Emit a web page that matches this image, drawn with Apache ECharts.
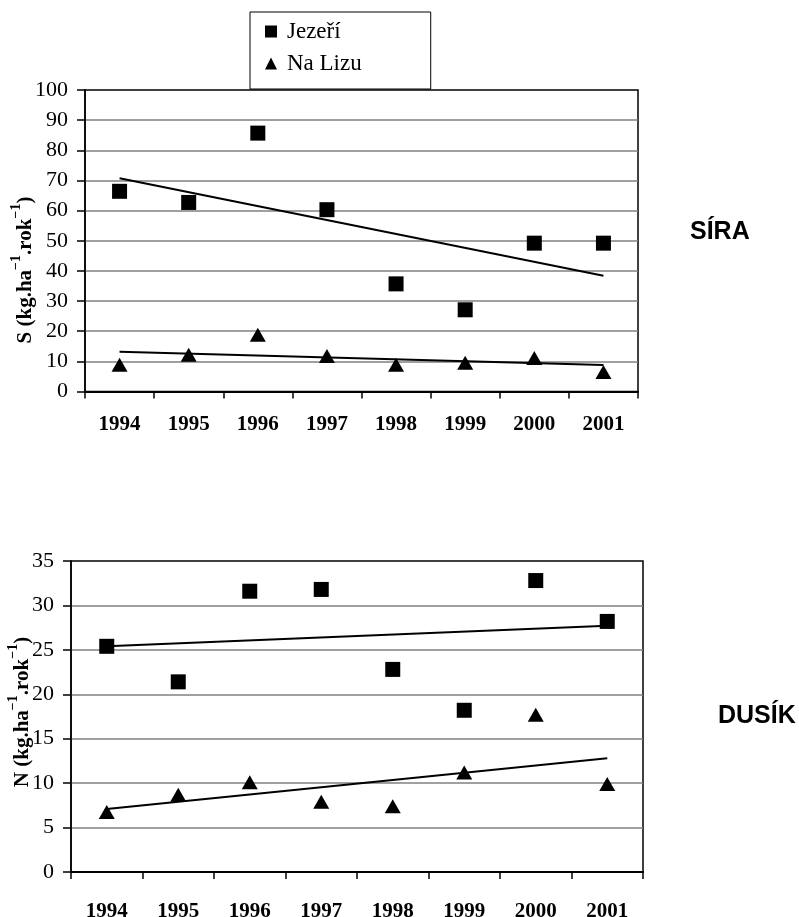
<!DOCTYPE html>
<html>
<head>
<meta charset="utf-8">
<script src="https://cdn.jsdelivr.net/npm/echarts@6/dist/echarts.min.js"></script>
<style>
html,body{margin:0;padding:0;background:#fff;}
#c{width:799px;height:917px;}
</style>
</head>
<body>
<div id="c"></div>
<script>
const years = ['1994', '1995', '1996', '1997', '1998', '1999', '2000', '2001'];
const seriesNames = ['Jezeří', 'Na Lizu'];
// Síra (S)
const sJezeri = [66.4, 62.7, 85.7, 60.3, 35.7, 27.1, 49.2, 49.2];
const sNaLizu = [8.9, 12.2, 18.8, 11.8, 8.9, 9.5, 11.1, 6.5];
const sJezeriTrend = [70.7, 38.4];   // trend line at 1994 and 2001
const sNaLizuTrend = [13.2, 8.8];
// Dusík (N)
const nJezeri = [25.4, 21.4, 31.6, 31.8, 22.8, 18.2, 32.8, 28.2];
const nNaLizu = [6.75, 8.7, 10.1, 7.9, 7.4, 11.2, 17.7, 9.9];
const nJezeriTrend = [25.4, 27.7];
const nNaLizuTrend = [7.1, 12.8];
// axis ranges
const sAxis = { min: 0, max: 100, interval: 10 };
const nAxis = { min: 0, max: 35, interval: 5 };
const panelLabels = ['SÍRA', 'DUSÍK'];
const yTitles = ['S', 'N'];

const SERIF = '"Liberation Serif", "Times New Roman", serif';
const SANS = '"Liberation Sans", Arial, sans-serif';

function xAxisCfg(gridIndex, margin) {
  return {
    type: 'category', gridIndex: gridIndex, data: years, boundaryGap: true,
    axisLine: { show: true, lineStyle: { color: '#000', width: 2 } },
    axisTick: { show: true, inside: false, length: 7, alignWithLabel: false, lineStyle: { color: '#000', width: 1.5 } },
    axisLabel: { margin: margin, fontFamily: SERIF, fontWeight: 'bold', fontSize: 21, color: '#000' },
    splitLine: { show: false }
  };
}
function yAxisCfg(gridIndex, r) {
  return {
    type: 'value', gridIndex: gridIndex, min: r.min, max: r.max, interval: r.interval,
    axisLine: { show: true, lineStyle: { color: '#000', width: 1.5 } },
    axisTick: { show: true, inside: false, length: 8, lineStyle: { color: '#000', width: 1.5 } },
    axisLabel: { margin: 17, fontFamily: SERIF, fontSize: 22, color: '#000' },
    splitLine: { show: true, showMinLine: false, showMaxLine: false, lineStyle: { color: '#808080', width: 1.5 } }
  };
}
function scatter(name, data, idx, symbol, size) {
  return {
    type: 'scatter', name: name, xAxisIndex: idx, yAxisIndex: idx, data: data,
    symbol: symbol, symbolSize: size, itemStyle: { color: '#000', opacity: 1 }, z: 4
  };
}
function trend(vals, idx) {
  return {
    type: 'line', name: 'trend', xAxisIndex: idx, yAxisIndex: idx,
    data: [[years[0], vals[0]], [years[years.length - 1], vals[1]]],
    symbol: 'none', lineStyle: { color: '#000', width: 2 }, silent: true, z: 3
  };
}
function yTitle(letter, x, y) {
  return {
    type: 'text', x: x, y: y, rotation: Math.PI / 2,
    style: {
      text: '{m|' + letter + ' (kg.ha}{s|−1}{m|.rok}{s|−1}{m|)}',
      align: 'center', verticalAlign: 'middle', fill: '#000',
      rich: {
        m: { fontFamily: SERIF, fontWeight: 'bold', fontSize: 21, padding: [6, 0, 0, 0], verticalAlign: 'bottom' },
        s: { fontFamily: SERIF, fontWeight: 'bold', fontSize: 14, verticalAlign: 'top' }
      }
    }
  };
}

const chart = echarts.init(document.getElementById('c'), null, { renderer: 'canvas' });
chart.setOption({
  backgroundColor: '#fff',
  animation: false,
  legend: {
    orient: 'vertical', left: 250, top: 12,
    data: [{ name: seriesNames[0], icon: 'rect' }, { name: seriesNames[1], icon: 'triangle' }],
    itemWidth: 12, itemHeight: 12, itemGap: 9,
    padding: [8, 69, 14, 15],
    borderColor: '#000', borderWidth: 1, backgroundColor: '#fff',
    itemStyle: { opacity: 1, color: '#000' },
    textStyle: { fontFamily: SERIF, fontSize: 23, color: '#000', padding: [0, 0, 0, 5] },
    selectedMode: false
  },
  grid: [
    { left: 85, top: 90, width: 553, height: 301.5, outerBoundsMode: 'none', show: true, borderColor: '#000', borderWidth: 1.5, backgroundColor: 'transparent' },
    { left: 71, top: 561, width: 572, height: 311, outerBoundsMode: 'none', show: true, borderColor: '#000', borderWidth: 1.5, backgroundColor: 'transparent' }
  ],
  xAxis: [xAxisCfg(0, 23), xAxisCfg(1, 29)],
  yAxis: [yAxisCfg(0, sAxis), yAxisCfg(1, nAxis)],
  series: [
    scatter(seriesNames[0], sJezeri, 0, 'rect', 15),
    scatter(seriesNames[1], sNaLizu, 0, 'triangle', [16, 14]),
    trend(sJezeriTrend, 0),
    trend(sNaLizuTrend, 0),
    scatter(seriesNames[0], nJezeri, 1, 'rect', 15),
    scatter(seriesNames[1], nNaLizu, 1, 'triangle', [16, 14]),
    trend(nJezeriTrend, 1),
    trend(nNaLizuTrend, 1)
  ],
  graphic: [
    yTitle(yTitles[0], 23, 270),
    yTitle(yTitles[1], 20, 712),
    { type: 'text', x: 690, y: 232, style: { text: panelLabels[0], font: 'bold 25px ' + SANS, fill: '#000', align: 'left', verticalAlign: 'middle' } },
    { type: 'text', x: 718, y: 716, style: { text: panelLabels[1], font: 'bold 25px ' + SANS, fill: '#000', align: 'left', verticalAlign: 'middle' } }
  ]
});
</script>
</body>
</html>
